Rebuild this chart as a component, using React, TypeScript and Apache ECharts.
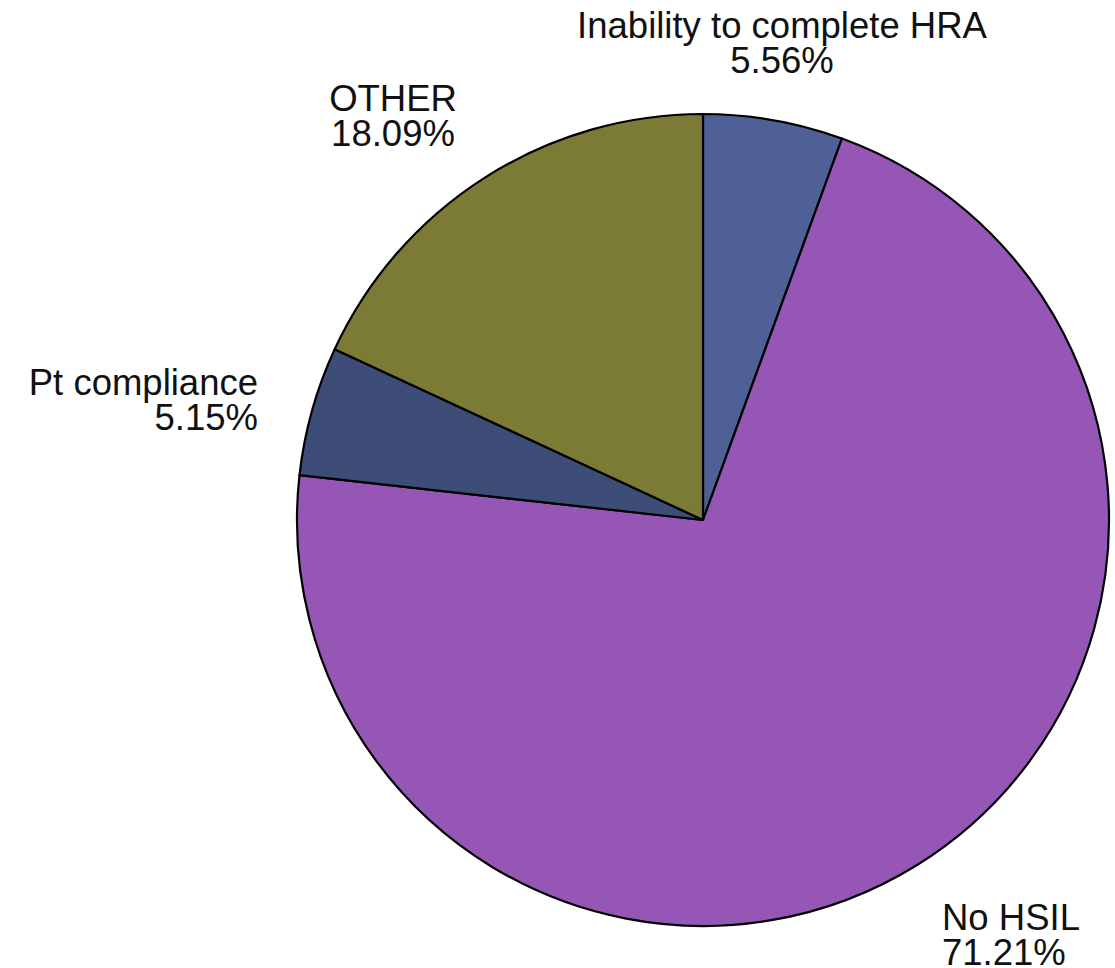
import React, { useEffect, useRef } from "react";
import * as echarts from "echarts";

// Slice names and shares (percent), clockwise from 12 o'clock
const categories = ["Inability to complete HRA", "No HSIL", "Pt compliance", "OTHER"];
const shares = [5.56, 71.21, 5.15, 18.09];
const sliceColors = ["#4F6096", "#9656B5", "#3E4C78", "#7B7B36"];

// Label anchor per slice: [x, y, horizontal alignment]
const labelAnchors: [number, number, "left" | "center" | "right"][] = [
  [782, 43, "center"],
  [942, 935, "left"],
  [258, 400, "right"],
  [393, 116, "center"],
];

export default function App() {
  const ref = useRef<HTMLDivElement>(null);

  useEffect(() => {
    if (!ref.current) return;
    const chart = echarts.init(ref.current, null, { renderer: "svg" });
    chart.setOption({
      animation: false,
      backgroundColor: "#ffffff",
      series: [
        {
          type: "pie",
          center: [703, 520],
          radius: [0, 406],
          startAngle: 90,
          clockwise: true,
          avoidLabelOverlap: false,
          itemStyle: { borderColor: "#000000", borderWidth: 2.2 },
          label: {
            show: true,
            position: "outside",
            fontFamily: "Liberation Sans, Arial, sans-serif",
            fontSize: 36.5,
            lineHeight: 35,
            color: "#111111",
            formatter: (p: any) => `${p.name}\n${p.value.toFixed(2)}%`,
          },
          labelLine: { show: false },
          labelLayout: (params: any) => {
            const a = labelAnchors[params.dataIndex];
            return { x: a[0], y: a[1], align: a[2], verticalAlign: "middle" };
          },
          data: categories.map((name, i) => ({
            name,
            value: shares[i],
            itemStyle: { color: sliceColors[i] },
          })),
        },
      ],
    });
    return () => chart.dispose();
  }, []);

  return (
    <div
      ref={ref}
      style={{ position: "fixed", left: 0, top: 0, width: 1115, height: 968 }}
    />
  );
}
